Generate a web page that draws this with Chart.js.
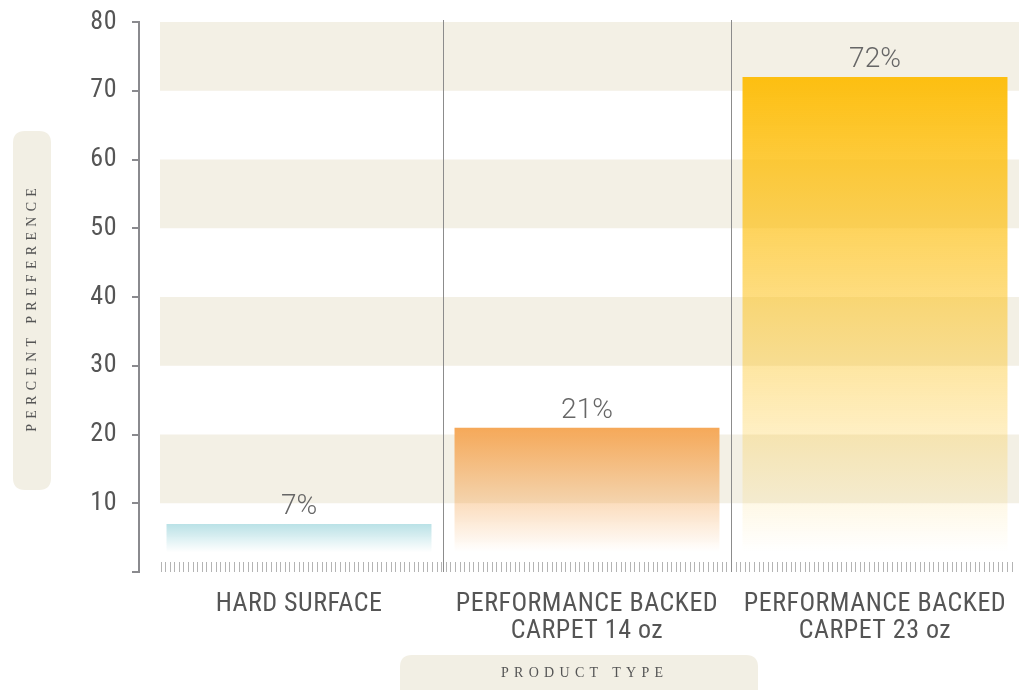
<!DOCTYPE html>
<html>
<head>
<meta charset="utf-8">
<script src="https://cdn.jsdelivr.net/npm/chart.js@4"></script>
<style>
  html, body { margin: 0; padding: 0; background: #fff; }
  #wrap { width: 1021px; height: 690px; position: relative; }
</style>
</head>
<body>
<div id="wrap"><canvas id="myChart"></canvas></div>
<script>
const categories = ['HARD SURFACE', ['PERFORMANCE BACKED', 'CARPET 14 oz'], ['PERFORMANCE BACKED', 'CARPET 23 oz']];
const preference = [7, 21, 72];
const barColors = [[185, 225, 230], [245, 168, 88], [253, 191, 17]];
const yTicks = [0, 10, 20, 30, 40, 50, 60, 70, 80];
const bandRanges = [[10, 20], [30, 40], [50, 60], [70, 80]];
const yTitle = 'PERCENT PREFERENCE';
const xTitle = 'PRODUCT TYPE';

const narrow = '"Roboto Condensed", "Liberation Sans Narrow", "DejaVu Sans Condensed", "Arial Narrow", sans-serif';
const serif = '"Liberation Serif", "DejaVu Serif", serif';

function roundRect(ctx, x, y, w, h, r) {
    ctx.beginPath();
    ctx.moveTo(x + r, y);
    ctx.lineTo(x + w - r, y);
    ctx.quadraticCurveTo(x + w, y, x + w, y + r);
    ctx.lineTo(x + w, y + h - r);
    ctx.quadraticCurveTo(x + w, y + h, x + w - r, y + h);
    ctx.lineTo(x + r, y + h);
    ctx.quadraticCurveTo(x, y + h, x, y + h - r);
    ctx.lineTo(x, y + r);
    ctx.quadraticCurveTo(x, y, x + r, y);
    ctx.closePath();
}

const decor = {
    id: 'decor',
    beforeDraw(chart) {
        // slight tracking on the axis labels
        chart.ctx.letterSpacing = '0.5px';
    },
    beforeDatasetsDraw(chart) {
        const ctx = chart.ctx, area = chart.chartArea, y = chart.scales.y;
        ctx.save();
        // beige bands
        ctx.fillStyle = '#f3f0e5';
        bandRanges.forEach(([a, b]) => {
            const top = y.getPixelForValue(b), bot = y.getPixelForValue(a);
            ctx.fillRect(area.left + 5, top, area.right - area.left - 5, bot - top);
        });
        // little hatch ticks along the bottom
        ctx.strokeStyle = '#b4b4b4';
        ctx.lineWidth = 1;
        ctx.beginPath();
        for (let px = area.left + 5.5; px < area.right - 3; px += 4.6) {
            ctx.moveTo(Math.round(px) + 0.5, area.bottom - 10);
            ctx.lineTo(Math.round(px) + 0.5, area.bottom);
        }
        ctx.stroke();
        // y axis line with ticks
        const ax = 139;
        ctx.strokeStyle = '#8a8a8e';
        ctx.lineWidth = 2;
        ctx.beginPath();
        ctx.moveTo(ax, y.getPixelForValue(80));
        ctx.lineTo(ax, y.getPixelForValue(0));
        yTicks.forEach(v => {
            const py = Math.round(y.getPixelForValue(v));
            ctx.moveTo(ax - 7, py);
            ctx.lineTo(ax + 1, py);
        });
        ctx.stroke();
        ctx.restore();
    },
    afterDatasetsDraw(chart) {
        const ctx = chart.ctx, area = chart.chartArea, x = chart.scales.x;
        ctx.save();
        ctx.letterSpacing = '0px';
        // category separators
        ctx.strokeStyle = '#8c8c8c';
        ctx.lineWidth = 1;
        ctx.beginPath();
        for (let i = 0; i < categories.length - 1; i++) {
            const px = Math.round((x.getPixelForValue(i) + x.getPixelForValue(i + 1)) / 2) + 0.5;
            ctx.moveTo(px, area.top - 2);
            ctx.lineTo(px, area.bottom);
        }
        ctx.stroke();
        // value labels
        ctx.fillStyle = '#666';
        ctx.font = '300 28px Roboto, sans-serif';
        ctx.textAlign = 'center';
        ctx.textBaseline = 'alphabetic';
        chart.getDatasetMeta(0).data.forEach((bar, i) => {
            ctx.fillText(preference[i] + '%', bar.x, bar.y - 10);
        });
        // axis title boxes
        ctx.fillStyle = '#f2efe4';
        roundRect(ctx, 13, 131, 38, 359, 12);
        ctx.fill();
        roundRect(ctx, 400, 655, 358, 50, 12);
        ctx.fill();
        ctx.fillStyle = '#555';
        ctx.font = '14px ' + serif;
        ctx.letterSpacing = '5.3px';
        ctx.textBaseline = 'middle';
        ctx.textAlign = 'left';
        let w = ctx.measureText(xTitle).width - 5.3;
        ctx.fillText(xTitle, 582 - w / 2, 673);
        ctx.translate(32, 310);
        ctx.rotate(-Math.PI / 2);
        w = ctx.measureText(yTitle).width - 5.3;
        ctx.fillText(yTitle, -w / 2, 0);
        ctx.restore();
    }
};

function barGradient(context) {
    const chart = context.chart;
    const area = chart.chartArea;
    const c = barColors[context.dataIndex];
    if (!area) return 'rgb(' + c.join(',') + ')';
    const top = chart.scales.y.getPixelForValue(preference[context.dataIndex]);
    const bottom = area.bottom - 20;
    const g = chart.ctx.createLinearGradient(0, top, 0, bottom);
    g.addColorStop(0, 'rgba(' + c.join(',') + ',1)');
    g.addColorStop(1, 'rgba(' + c.join(',') + ',0)');
    return g;
}

const config = {
    type: 'bar',
    data: {
        labels: categories,
        datasets: [{
            data: preference,
            backgroundColor: barGradient,
            borderWidth: 0,
            categoryPercentage: 0.92,
            barPercentage: 1
        }]
    },
    options: {
        responsive: true,
        maintainAspectRatio: false,
        animation: false,
        layout: { padding: { top: 22, right: 2, left: 0, bottom: 0 } },
        plugins: { legend: { display: false }, tooltip: { enabled: false } },
        scales: {
            y: {
                min: 0,
                max: 80,
                afterFit(scale) {
                    scale.width = 155;
                    scale.paddingTop = 0;
                    scale.paddingBottom = 0;
                },
                afterBuildTicks(scale) { scale.ticks = yTicks.map(v => ({ value: v })); },
                grid: { display: false, drawTicks: false },
                border: { display: false },
                ticks: {
                    padding: 38,
                    color: '#555',
                    font: { family: narrow, size: 26 },
                    callback: v => v === 0 ? '' : v
                }
            },
            x: {
                afterFit(scale) {
                    scale.height = 118;
                    scale.paddingLeft = 0;
                    scale.paddingRight = 0;
                },
                grid: { display: false, drawTicks: false },
                border: { display: false },
                ticks: {
                    padding: 19,
                    color: '#555',
                    maxRotation: 0,
                    autoSkip: false,
                    font: { family: narrow, size: 26, lineHeight: 1.04 }
                }
            }
        }
    },
    plugins: [decor]
};

new Chart(document.getElementById('myChart').getContext('2d'), config);
</script>
</body>
</html>
